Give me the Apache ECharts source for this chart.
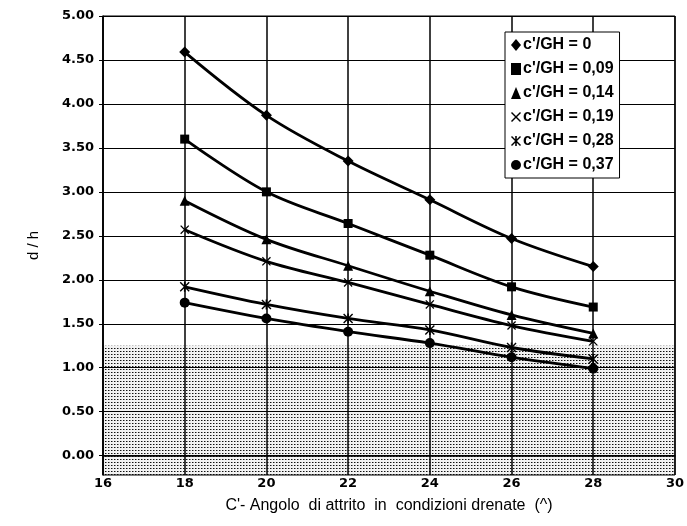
<!DOCTYPE html>
<html>
<head>
<meta charset="utf-8">
<script src="https://cdn.jsdelivr.net/npm/echarts@6/dist/echarts.min.js"></script>
<style>
html,body{margin:0;padding:0;background:#fff;}
#chart{width:687px;height:526px;}
</style>
</head>
<body>
<div id="chart"></div>
<script>
// ---- data ----
var angles = [18, 20, 22, 24, 26, 28];
var seriesNames = ["c'/GH = 0", "c'/GH = 0,09", "c'/GH = 0,14", "c'/GH = 0,19", "c'/GH = 0,28", "c'/GH = 0,37"];
var s000 = [4.59, 3.87, 3.35, 2.91, 2.47, 2.15];
var s009 = [3.60, 3.00, 2.64, 2.28, 1.92, 1.69];
var s014 = [2.90, 2.46, 2.16, 1.87, 1.60, 1.39];
var s019 = [2.57, 2.21, 1.97, 1.72, 1.48, 1.30];
var s028 = [1.92, 1.72, 1.56, 1.43, 1.23, 1.10];
var s037 = [1.74, 1.56, 1.41, 1.28, 1.12, 0.99];
var yTicks = [0, 0.5, 1, 1.5, 2, 2.5, 3, 3.5, 4, 4.5, 5];
var xTicks = [16, 18, 20, 22, 24, 26, 28, 30];
var shadeTop = 1.25;
var yMin = -0.22;

// ---- styles ----
var xSym = 'path://M0,1 L1,0 L5,4 L9,0 L10,1 L6,5 L10,9 L9,10 L5,6 L1,10 L0,9 L4,5 Z';
var starSym = 'path://M0,1 L1,0 L5,4 L9,0 L10,1 L6,5 L10,9 L9,10 L5,6 L1,10 L0,9 L4,5 Z M4.2,0 L5.8,0 L5.8,10 L4.2,10 Z';
var symbols = ['diamond', 'rect', 'triangle', xSym, starSym, 'circle'];
var symSizes = [11, 9, 10, 9, 10, 10];
var allData = [s000, s009, s014, s019, s028, s037];

var pc = document.createElement('canvas');
pc.width = 3; pc.height = 3;
var pctx = pc.getContext('2d');
pctx.fillStyle = '#f2f2f2'; pctx.fillRect(0, 0, 3, 3);
pctx.fillStyle = '#111'; pctx.fillRect(0, 0, 1, 1);
pctx.fillStyle = '#888'; pctx.fillRect(1, 0, 1, 1);

var series = [{
  type: 'line', data: [], z: 1, silent: true,
  markArea: {
    silent: true,
    itemStyle: { color: { image: pc, repeat: 'repeat' } },
    data: [[{ yAxis: yMin }, { yAxis: shadeTop }]]
  }
}];
for (var i = 0; i < allData.length; i++) {
  series.push({
    name: seriesNames[i],
    type: 'line',
    smooth: 0.35,
    symbol: symbols[i],
    symbolSize: symSizes[i],
    showSymbol: true,
    data: angles.map(function (a, j) { return [a, allData[i][j]]; }),
    lineStyle: { color: '#000', width: 2.8 },
    itemStyle: { color: '#000', borderColor: '#000', borderWidth: 0 },
    z: 4
  });
}

var chart = echarts.init(document.getElementById('chart'), null, { renderer: 'canvas' });
chart.setOption({
  animation: false,
  backgroundColor: '#fff',
  grid: { left: 103, right: 12, top: 16, bottom: 51, show: true, borderColor: '#000', borderWidth: 1, backgroundColor: 'transparent', z: 3 },
  legend: {
    orient: 'vertical',
    left: 505, top: 32,
    padding: [5, 6, 5, 6],
    itemGap: 8,
    itemWidth: 10, itemHeight: 12,
    backgroundColor: '#fff',
    borderColor: '#000', borderWidth: 1, borderRadius: 0,
    data: seriesNames.map(function (n, i) { return { name: n, icon: symbols[i] }; }),
    textStyle: { fontFamily: 'Liberation Sans, Arial', fontWeight: 'bold', fontSize: 16, color: '#000', padding: [0, 0, 0, -3] },
    itemStyle: { color: '#000' },
    z: 6
  },
  xAxis: {
    type: 'value', min: 16, max: 30, interval: 2, z: 3,
    name: "C'- Angolo  di attrito  in  condizioni drenate  (^)",
    nameLocation: 'middle', nameGap: 23,
    nameTextStyle: { fontFamily: 'Liberation Sans, Arial', fontSize: 16, color: '#000' },
    axisLine: { lineStyle: { color: '#000', width: 1.5 } },
    axisTick: { show: false },
    axisLabel: { margin: 2, fontFamily: 'DejaVu Sans', fontWeight: 'bold', fontSize: 13, color: '#000',
      customValues: xTicks },
    splitLine: { show: true, lineStyle: { color: '#000', width: 1.5 } }
  },
  yAxis: {
    type: 'value', min: yMin, max: 5, z: 3,
    name: 'd / h', nameLocation: 'middle', nameGap: 62, nameRotate: 90,
    nameTextStyle: { fontFamily: 'Liberation Sans, Arial', fontSize: 15, color: '#000' },
    axisLine: { lineStyle: { color: '#000', width: 1.5 } },
    axisTick: { show: true, length: 4, inside: false, lineStyle: { color: '#000' }, customValues: yTicks },
    axisLabel: { margin: 9, fontFamily: 'DejaVu Sans', fontWeight: 'bold', fontSize: 13, color: '#000',
      customValues: yTicks,
      formatter: function (v) { return v.toFixed(2); } },
    splitLine: { show: true, lineStyle: { color: '#000', width: 1 } }
  },
  series: series
});
</script>
</body>
</html>
